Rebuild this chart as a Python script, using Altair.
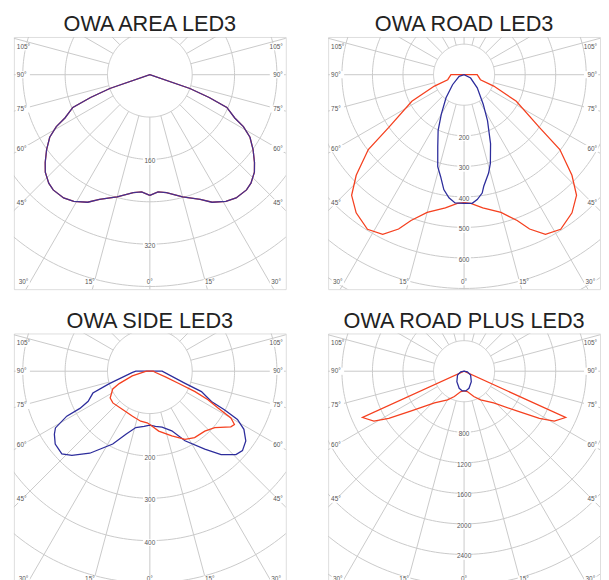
import numpy as np
import pandas as pd
import altair as alt

# ---------------- data ----------------
titles = ["OWA AREA LED3", "OWA ROAD LED3", "OWA SIDE LED3", "OWA ROAD PLUS LED3"]
ring_step = [80, 100, 100, 400]                       # cd between rings
ring_labels = [[160, 320],
               [200, 300, 400, 500, 600],
               [200, 300, 400],
               [800, 1200, 1600, 2000, 2400]]
side_angles = [105, 90, 75, 60, 45]
bottom_angles = [-30, -15, 0, 15, 30]

# gamma (deg from nadir) listed from 90 down to 0, intensity in cd
area_g = [90, 71, 69, 67, 63, 61, 58, 54, 50, 47, 43, 40, 35, 31, 26, 22, 15, 8, 4, 0]
area_i = [0, 80, 120, 158, 180, 202, 223, 241, 258, 270, 280, 284, 284, 279, 268, 254, 239, 225, 222, 228]

road_red_g = [90, 73, 69, 63, 55, 52, 47, 43, 38, 32, 27, 23, 20, 15, 8, 3, 0]
road_red_i = [43, 56, 104, 192, 301, 398, 483, 540, 574, 597, 587, 549, 508, 467, 440, 422, 419]
road_blue_gl = [90, 72, 49, 38, 30, 25, 20, 16, 13, 10, 7, 4, 0]
road_blue_il = [0, 17, 50, 96, 149, 201, 252, 313, 342, 382, 406, 421, 421]
road_blue_gr = [90, 63, 45, 33, 27, 21, 16.5, 14, 10, 8.7, 6, 3.6, 0]
road_blue_ir = [0, 24, 61, 115, 169, 242, 303, 332, 371, 392, 411, 422, 421]

side_blue_gl = [90, 86, 73, 69, 64, 62, 61.6, 59, 56.6, 52.4, 46.8, 42.8, 36.2, 27, 20.8, 14, 6, 0]
side_blue_il = [33, 41, 100, 144, 162, 187, 223, 260, 270, 282, 285, 271, 240, 193, 159, 137, 131, 127]
side_blue_gr = [90, 71, 68.4, 63.8, 62.7, 61.2, 58.3, 54, 49.4, 45.9, 40.5, 35.2, 26.8, 20.2, 12.3, 5.8, 0]
side_blue_ir = [29, 88, 131, 162, 198, 236, 261, 280, 288, 283, 259, 225, 184, 150, 135, 131, 127]
side_red_gl = [90, 75, 68, 64.5, 56, 49.4, 35.4, 21, 10.4, 3, 0]
side_red_il = [8, 43, 78, 97, 113, 115, 111, 114, 120, 122, 126]
side_red_gr = [90, 77, 70, 67, 65.7, 63.8, 61.6, 60, 57.8, 55.5, 49, 42.5, 34, 27.3, 18.8, 8.4, 2.4, 0]
side_red_ir = [8, 14, 39, 73, 117, 153, 183, 221, 236, 232, 203, 192, 189, 181, 161, 143, 130, 126]

plus_red_g = [90, 65.5, 61, 58, 53, 43, 30, 21, 9, 0]
plus_red_i = [0, 1462, 1351, 1163, 865, 569, 432, 355, 270, 258]
plus_blue_g = [90, 79, 59, 34.5, 16, 5, 0]
plus_blue_i = [0, 44, 100, 167, 233, 259, 258]

RED = "#f5401f"
BLUE = "#2d2d9c"

# (left gamma, left cd, right gamma, right cd, colour, opacity)
curves = [
    [(area_g, area_i, area_g, area_i, RED, 1.0), (area_g, area_i, area_g, area_i, BLUE, 0.9)],
    [(road_red_g, road_red_i, road_red_g, road_red_i, RED, 1.0),
     (road_blue_gl, road_blue_il, road_blue_gr, road_blue_ir, BLUE, 1.0)],
    [(side_blue_gl, side_blue_il, side_blue_gr, side_blue_ir, BLUE, 1.0),
     (side_red_gl, side_red_il, side_red_gr, side_red_ir, RED, 1.0)],
    [(plus_red_g, plus_red_i, plus_red_g, plus_red_i, RED, 1.0),
     (plus_blue_g, plus_blue_i, plus_blue_g, plus_blue_i, BLUE, 1.0)],
]

# ---------------- layout ----------------
W, H = 276, 256           # frame size in px
CX, CY = 138.0, 38.3      # centre of the diagram inside the frame
PX_STEP = [43, 31, 43, 31]
GRID = "#c9c9c9"
LAB = "#555555"
FONT = "Liberation Sans"


def panel(p):
    step = ring_step[p]
    k = PX_STEP[p] / step                      # px per cd
    xs = alt.Scale(domain=[-CX / k, (W - CX) / k], nice=False, zero=False)
    ys = alt.Scale(domain=[-(H - CY) / k, CY / k], nice=False, zero=False)

    def X(f):
        return alt.X(f, type="quantitative", scale=xs, axis=None)

    def Y(f):
        return alt.Y(f, type="quantitative", scale=ys, axis=None)

    rmax = 320 / k
    nring = int(rmax / step) + 1
    t = np.linspace(0, 2 * np.pi, 241)
    rows = []
    for n in range(1, nring + 1):
        r = n * step
        for j, a in enumerate(t):
            rows.append({"ring": n, "o": j, "x": r * np.sin(a), "y": r * np.cos(a)})
    rings = alt.Chart(pd.DataFrame(rows)).mark_line(
        clip=True, stroke=GRID, strokeWidth=1).encode(
        x=X("x"), y=Y("y"), detail="ring:N", order="o:Q")

    ang = np.radians(np.arange(0, 360, 15))
    sp = pd.DataFrame({"x": step * np.sin(ang), "y": -step * np.cos(ang),
                       "x2": rmax * np.sin(ang), "y2": -rmax * np.cos(ang)})
    spokes = alt.Chart(sp).mark_rule(clip=True, stroke=GRID, strokeWidth=1).encode(
        x=X("x"), y=Y("y"), x2="x2:Q", y2="y2:Q")

    # value labels along the nadir line
    vl = pd.DataFrame({"x": 0.0, "y": [-(v + 2.0 / k) for v in ring_labels[p]],
                       "t": [str(v) for v in ring_labels[p]]})
    # angle labels on the sides
    srows = []
    for g in side_angles:
        gr = np.radians(g)
        dx = CX - 8
        r = dx / np.sin(gr)
        ypx = r * np.cos(gr)                # px downwards from centre
        ypx = max(ypx, -CY + 10)
        srows.append({"x": (-CX + 3) / k, "y": -ypx / k, "t": f"{g}°", "a": "left"})
        srows.append({"x": (W - CX - 3) / k, "y": -ypx / k, "t": f"{g}°", "a": "right"})
    sl = pd.DataFrame(srows)
    brows = []
    for g in bottom_angles:
        gr = np.radians(g)
        xpx = (H - CY) * np.tan(gr) + np.sign(g) * 2.5
        brows.append({"x": xpx / k, "y": -(H - CY - 7) / k, "t": f"{abs(g)}°"})
    bl = pd.DataFrame(brows)

    shape = "M-1,-0.5L1,-0.5L1,0.5L-1,0.5Z"
    bg_v = alt.Chart(vl).mark_point(shape=shape, filled=True, fill="white",
                                    opacity=1, size=190, strokeWidth=0).encode(x=X("x"), y=Y("y"))
    txt_v = alt.Chart(vl).mark_text(font=FONT, fontSize=6.5, color=LAB,
                                    baseline="middle").encode(x=X("x"), y=Y("y"), text="t:N")
    left = sl[sl.a == "left"]
    right = sl[sl.a == "right"]
    bg_l = alt.Chart(left).mark_point(shape=shape, filled=True, fill="white", opacity=1,
                                      size=210, strokeWidth=0, xOffset=6).encode(x=X("x"), y=Y("y"))
    bg_r = alt.Chart(right).mark_point(shape=shape, filled=True, fill="white", opacity=1,
                                       size=210, strokeWidth=0, xOffset=-6).encode(x=X("x"), y=Y("y"))
    txt_l = alt.Chart(left).mark_text(font=FONT, fontSize=6.5, color=LAB, align="left",
                                      baseline="middle").encode(x=X("x"), y=Y("y"), text="t:N")
    txt_r = alt.Chart(right).mark_text(font=FONT, fontSize=6.5, color=LAB, align="right",
                                       baseline="middle").encode(x=X("x"), y=Y("y"), text="t:N")
    bg_b = alt.Chart(bl).mark_point(shape=shape, filled=True, fill="white", opacity=1,
                                    size=160, strokeWidth=0).encode(x=X("x"), y=Y("y"))
    txt_b = alt.Chart(bl).mark_text(font=FONT, fontSize=6.5, color=LAB,
                                    baseline="middle").encode(x=X("x"), y=Y("y"), text="t:N")

    layers = [rings, spokes, bg_v, txt_v, bg_l, bg_r, txt_l, txt_r, bg_b, txt_b]
    for (gl, il, gr_, ir, col, op) in curves[p]:
        xs_l = [-i * np.sin(np.radians(g)) for g, i in zip(gl, il)][::-1]
        ys_l = [-i * np.cos(np.radians(g)) for g, i in zip(gl, il)][::-1]
        xs_r = [i * np.sin(np.radians(g)) for g, i in zip(gr_, ir)]
        ys_r = [-i * np.cos(np.radians(g)) for g, i in zip(gr_, ir)]
        df = pd.DataFrame({"x": xs_l + xs_r, "y": ys_l + ys_r,
                           "o": list(range(len(xs_l) + len(xs_r)))})
        layers.append(alt.Chart(df).mark_line(clip=True, color=col, strokeWidth=1.3,
                                              opacity=op, interpolate="linear").encode(
            x=X("x"), y=Y("y"), order="o:Q"))

    return alt.layer(*layers).properties(
        width=W, height=H,
        title=alt.TitleParams(titles[p], fontSize=22, font=FONT, fontWeight="normal",
                              color="#222222", anchor="middle", offset=1))


row1 = alt.hconcat(panel(0), panel(1), spacing=41)
row2 = alt.hconcat(panel(2), panel(3), spacing=41)
chart = alt.vconcat(row1, row2, spacing=19).properties(
    padding={"left": 5, "top": 0, "right": 0, "bottom": 0}
).configure_view(stroke="#222222", strokeWidth=1.5).configure(background="white")

chart.save("out.html", embed_options={"renderer": "svg", "actions": False})
